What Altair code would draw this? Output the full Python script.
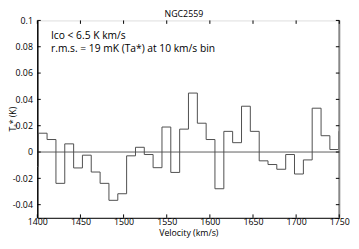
import altair as alt
import pandas as pd

# bin start velocities (km/s) and antenna temperature (K)
vel_start = [1390.8, 1401.1, 1411.3, 1421.6, 1431.8, 1442.1, 1452.3, 1462.5, 1472.8, 1483.0,
             1493.3, 1503.5, 1513.8, 1524.0, 1534.2, 1544.5, 1554.7, 1565.0, 1575.2, 1585.5,
             1595.7, 1605.9, 1616.2, 1626.4, 1636.7, 1646.9, 1657.2, 1667.4, 1677.6, 1687.9,
             1698.1, 1708.4, 1718.6, 1728.9, 1739.1, 1749.3, 1759.6]
ta = [-0.011, 0.0143, 0.0095, -0.0238, 0.0062, -0.0121, -0.0024, -0.0152, -0.0238, -0.0367,
      -0.0317, -0.0029, 0.0036, -0.0019, -0.0119, 0.019, -0.0155, 0.0174, 0.0448, 0.0219,
      0.0095, -0.0279, 0.0157, 0.0071, 0.0348, 0.0157, -0.0067, -0.0095, -0.0131, -0.0019,
      -0.0167, -0.0060, 0.0333, 0.0124, 0.0019, 0.0157, 0.0157]

x_ticks = [1400, 1450, 1500, 1550, 1600, 1650, 1700, 1750]
y_ticks = [-0.04, -0.02, 0, 0.02, 0.04, 0.06, 0.08, 0.1]

title_text = "NGC2559"
note1 = "Ico < 6.5  K km/s"
note2 = "r.m.s. = 19 mK (Ta*) at 10 km/s bin"
x_title = "Velocity (km/s)"
y_title = "Tₐ* (K)"

W, H = 309, 202
FONT = "Open Sans"

df = pd.DataFrame({"v": vel_start, "t": ta})
xt = pd.DataFrame({"v": x_ticks})
yt = pd.DataFrame({"t": y_ticks})

xs = alt.Scale(domain=[1400, 1750], nice=False, zero=False)
ys = alt.Scale(domain=[-0.05, 0.1], nice=False, zero=False)

AX = alt.Axis(values=x_ticks, title=None, ticks=False, tickSize=0, grid=False,
              labelFontSize=9, labelPadding=0, labelColor="#000", format="d",
              labelFont=FONT, domainColor="#000", labelFlush=False, labelOverlap=False)
AY = alt.Axis(values=y_ticks, title=None, ticks=False, tickSize=0, grid=False,
              labelFontSize=9, labelPadding=5, labelColor="#000",
              labelFont=FONT, domainColor="#000", domainWidth=1.5,
              labelExpr="'' + datum.value", labelFlush=False, labelOverlap=False)

XE = lambda f: alt.X(f, scale=xs, axis=AX)
YE = lambda f: alt.Y(f, scale=ys, axis=AY)

spectrum = alt.Chart(df).mark_line(interpolate="step-after", color="#4d4d4d",
                                   strokeWidth=1, clip=True).encode(
    x=XE("v:Q"), y=YE("t:Q"))

zero = alt.Chart(pd.DataFrame({"t": [0]})).mark_rule(color="#333", strokeWidth=0.8).encode(
    y=YE("t:Q"), x=alt.value(0), x2=alt.value(W))

right_edge = alt.Chart(pd.DataFrame({"a": [0]})).mark_rule(color="#888", strokeWidth=2).encode(
    x=alt.value(W), y=alt.value(0), y2=alt.value(H))

tick_len = 3.5
bt = alt.Chart(xt).mark_rule(color="#000", strokeWidth=1).encode(
    x=XE("v:Q"), y=alt.value(H), y2=alt.value(H - tick_len))
tt = alt.Chart(xt).mark_rule(color="#000", strokeWidth=1).encode(
    x=XE("v:Q"), y=alt.value(0), y2=alt.value(tick_len))
lt = alt.Chart(yt).mark_rule(color="#000", strokeWidth=1).encode(
    y=YE("t:Q"), x=alt.value(0), x2=alt.value(tick_len))
rt = alt.Chart(yt).mark_rule(color="#000", strokeWidth=1).encode(
    y=YE("t:Q"), x=alt.value(W), x2=alt.value(W - tick_len))

def txt(s, x, y, size, align="left", angle=0, baseline="alphabetic"):
    return alt.Chart(pd.DataFrame({"s": [s]})).mark_text(
        align=align, baseline=baseline, fontSize=size, font=FONT, color="#000",
        angle=angle).encode(text="s:N", x=alt.value(x), y=alt.value(y))

texts = (
    txt(title_text, 150, -3, 9, align="center")
    + txt(note1, 14, 19.5, 10.5)
    + txt(note2, 14, 32, 10.5)
    + txt(x_title, 155, 221, 9, align="center")
    + txt(y_title, -25, H / 2, 9, align="center", angle=270, baseline="middle")
)

chart = alt.layer(zero, spectrum, right_edge, bt, tt, lt, rt, texts).properties(
    width=W, height=H,
    autosize=alt.AutoSizeParams(type="none"),
    padding={"left": 30, "top": 10, "right": 12, "bottom": 21},
).configure_view(stroke="#000", strokeWidth=1).configure(background="white")

chart.save("out.html", embed_options={"renderer": "svg", "actions": False})
